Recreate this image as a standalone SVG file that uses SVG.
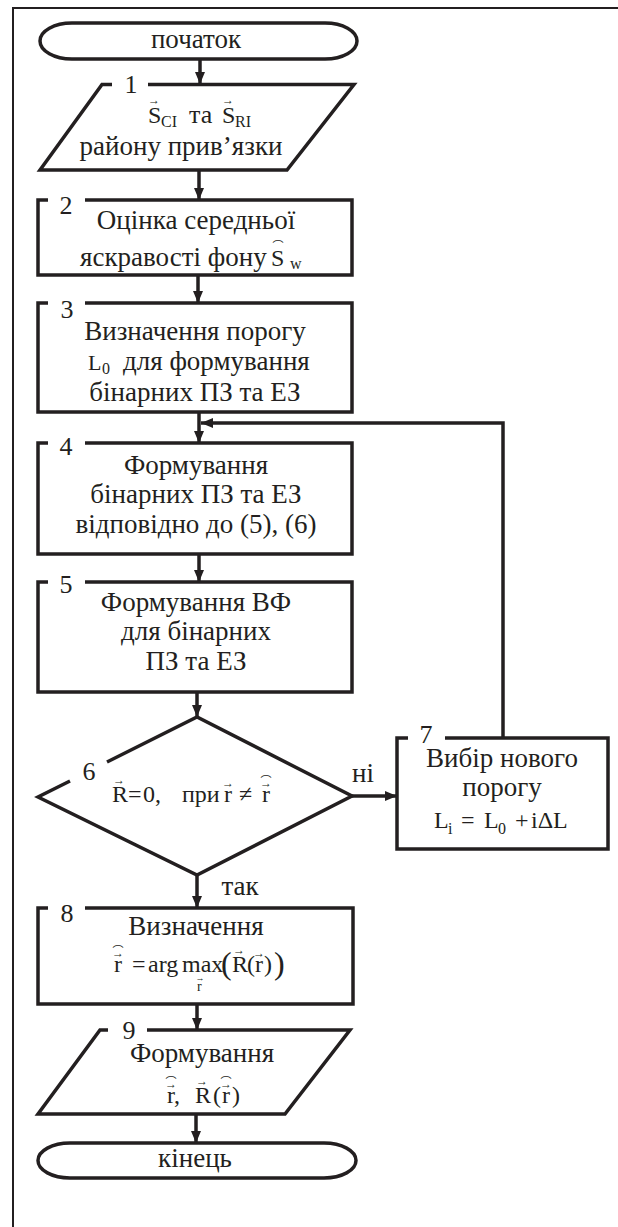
<svg xmlns="http://www.w3.org/2000/svg" width="618" height="1227" viewBox="0 0 618 1227">
<defs>
<style>
.s{fill:none;stroke:#231f20;stroke-width:3.5;stroke-linejoin:miter}
.c{fill:none;stroke:#231f20;stroke-width:3.5}
.f{fill:none;stroke:#231f20;stroke-width:2}
text{font-family:'Liberation Serif','Times New Roman',serif;fill:#231f20}
.t{font-size:27px;text-anchor:middle}
.l{font-size:27px}
.n{font-size:26px;text-anchor:middle}
.m{font-size:24px}
.sb{font-size:16px}
.v{font-size:12px;text-anchor:middle}
.h{font-size:11px;text-anchor:middle;font-family:'DejaVu Sans','Noto Sans CJK JP',sans-serif}
</style>
<marker id="ah" markerUnits="userSpaceOnUse" markerWidth="12" markerHeight="12" refX="12" refY="5" orient="auto"><path d="M0,0 L12,5 L0,10 z" fill="#231f20"/></marker>
</defs>
<rect width="618" height="1227" fill="#fff"/>
<path class="f" d="M618,8 H13 V1227"/>

<g id="connectors">
<path class="c" d="M200,59 V84" marker-end="url(#ah)"/>
<path class="c" d="M199,170 V200" marker-end="url(#ah)"/>
<path class="c" d="M198,275 V303" marker-end="url(#ah)"/>
<path class="c" d="M199,412 V443" marker-end="url(#ah)"/>
<path class="c" d="M199,554 V582" marker-end="url(#ah)"/>
<path class="c" d="M197,692 V717" marker-end="url(#ah)"/>
<path class="c" d="M197,875 V908" marker-end="url(#ah)"/>
<path class="c" d="M197,1004 V1030" marker-end="url(#ah)"/>
<path class="c" d="M196,1114 V1143" marker-end="url(#ah)"/>
<path class="c" d="M352,796 H397" marker-end="url(#ah)"/>
<path class="c" d="M503,738 V423 H201" marker-end="url(#ah)"/>
<text class="t" x="363" y="782">ні</text>
<text class="t" x="240" y="895">так</text>
</g>

<g id="start">
<rect class="s" x="40" y="23" width="317" height="36" rx="32" ry="18"/>
<text class="t" x="196" y="48">початок</text>
</g>

<g id="n1">
<path class="s" d="M148,84.5 L354,84.5 L287,170 L40,170 L102,84.5 L112,84.5"/>
<text class="n" x="131" y="93">1</text>
<text class="m" x="148" y="123">S</text>
<text class="v" x="154" y="104">→</text>
<text class="sb" x="161" y="127">CI</text>
<text class="l" x="189" y="123" style="font-size:26px">та</text>
<text class="m" x="222" y="123">S</text>
<text class="v" x="228" y="104">→</text>
<text class="sb" x="235" y="127">RI</text>
<text class="t" x="181" y="155">району прив’язки</text>
</g>

<g id="n2">
<path class="s" d="M85,200 H352 V275 H38 V200 H48"/>
<text class="n" x="66" y="214">2</text>
<text class="t" x="196" y="229">Оцінка середньої</text>
<text class="l" x="80" y="266">яскравості фону</text>
<text class="m" x="271" y="266">S</text>
<text class="h" x="278" y="250">⌒</text>
<text class="sb" x="290" y="269">w</text>
</g>

<g id="n3">
<path class="s" d="M85,303 H352 V412 H38 V303 H48"/>
<text class="n" x="67" y="318">3</text>
<text class="t" x="195" y="340">Визначення порогу</text>
<text class="m" x="88" y="370" style="font-size:22px">L</text>
<text class="sb" x="102" y="374">0</text>
<text class="l" x="123" y="370">для формування</text>
<text class="t" x="195" y="401">бінарних ПЗ та ЕЗ</text>
</g>

<g id="n4">
<path class="s" d="M85,443 H352 V554 H38 V443 H48"/>
<text class="n" x="66" y="455">4</text>
<text class="t" x="196" y="474">Формування</text>
<text class="t" x="196" y="503">бінарних ПЗ та ЕЗ</text>
<text class="t" x="196" y="533">відповідно до (5), (6)</text>
</g>

<g id="n5">
<path class="s" d="M85,582 H352 V692 H38 V582 H48"/>
<text class="n" x="66" y="593">5</text>
<text class="t" x="196" y="611">Формування ВФ</text>
<text class="t" x="196" y="640">для бінарних</text>
<text class="t" x="196" y="670">ПЗ та ЕЗ</text>
</g>

<g id="n6">
<path class="s" d="M107,762 L197,717 L352,796 L197,875 L38,797 L70,781"/>
<text class="n" x="89" y="780">6</text>
<text class="m" x="112" y="802">R</text>
<text class="v" x="119" y="784">→</text>
<text class="m" x="128" y="802">=</text>
<text class="m" x="143" y="802">0,</text>
<text class="m" x="182" y="802">при</text>
<text class="m" x="224" y="802">r</text>
<text class="v" x="228" y="787">→</text>
<text class="m" x="239" y="802">≠</text>
<text class="m" x="262" y="802">r</text>
<text class="v" x="266" y="787">→</text>
<text class="h" x="266" y="785">⌒</text>
</g>

<g id="n7">
<path class="s" d="M445,738 H608 V849 H397 V738 H408"/>
<text class="n" x="426" y="743">7</text>
<text class="t" x="502" y="767">Вибір нового</text>
<text class="t" x="502" y="796">порогу</text>
<text class="m" x="434" y="828">L</text>
<text class="sb" x="448" y="834">i</text>
<text class="m" x="461" y="828">=</text>
<text class="m" x="484" y="828">L</text>
<text class="sb" x="498" y="834">0</text>
<text class="m" x="515" y="828">+</text>
<text class="m" x="531" y="828">iΔL</text>
</g>

<g id="n8">
<path class="s" d="M85,908 H353 V1004 H38 V908 H48"/>
<text class="n" x="67" y="922">8</text>
<text class="t" x="196" y="935">Визначення</text>
<text class="m" x="114" y="972">r</text>
<text class="v" x="118" y="957">→</text>
<text class="h" x="118" y="955">⌒</text>
<text class="m" x="132" y="972">=</text>
<text class="m" x="148" y="972">arg</text>
<text class="m" x="182" y="972">max</text>
<text class="sb" x="197" y="991" style="font-size:14px">r</text>
<text class="v" x="200" y="981" style="font-size:9px">→</text>
<text class="m" x="221" y="974" style="font-size:32px">(</text>
<text class="m" x="232" y="972">R</text>
<text class="v" x="239" y="954">→</text>
<text class="m" x="247" y="972">(</text>
<text class="m" x="255" y="972">r</text>
<text class="v" x="259" y="957">→</text>
<text class="m" x="264" y="972">)</text>
<text class="m" x="274" y="974" style="font-size:32px">)</text>
</g>

<g id="n9">
<path class="s" d="M147,1030 H350 L285,1114 H38 L100,1030 H108"/>
<text class="n" x="129" y="1039">9</text>
<text class="t" x="202" y="1062">Формування</text>
<text class="m" x="167" y="1103">r,</text>
<text class="v" x="171" y="1088">→</text>
<text class="h" x="171" y="1086">⌒</text>
<text class="m" x="195" y="1103">R</text>
<text class="v" x="202" y="1085">→</text>
<text class="m" x="213" y="1103">(</text>
<text class="m" x="222" y="1103">r</text>
<text class="v" x="226" y="1088">→</text>
<text class="h" x="226" y="1086">⌒</text>
<text class="m" x="232" y="1103">)</text>
</g>

<g id="end">
<rect class="s" x="38" y="1143" width="318" height="35" rx="32" ry="17.5"/>
<text class="t" x="195" y="1167">кінець</text>
</g>
</svg>
